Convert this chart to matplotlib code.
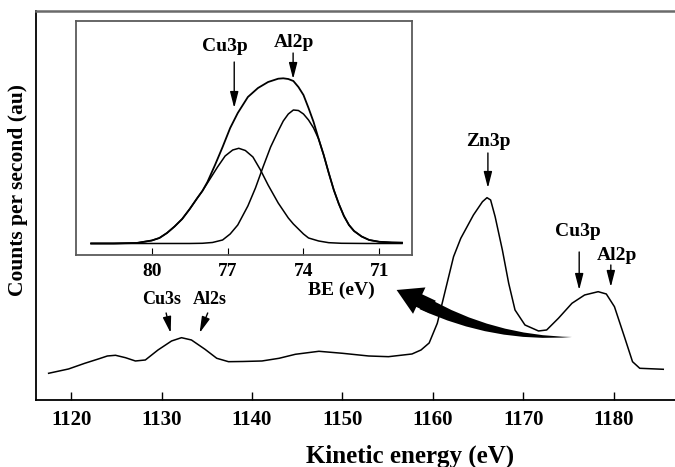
import numpy as np
import matplotlib
matplotlib.use("Agg")
import matplotlib.pyplot as plt
from matplotlib.patches import FancyArrowPatch

plt.rcParams['font.family'] = ['Liberation Serif', 'DejaVu Serif']
plt.rcParams['font.weight'] = 'bold'
plt.rcParams['axes.labelweight'] = 'bold'

# Spectre principal (énergie cinétique, intensité)
ke = [1117.5, 1119.7, 1121.5, 1123.0, 1124.0, 1124.9, 1126.0, 1127.1, 1128.2,
      1129.6, 1131.1, 1132.2, 1133.3, 1134.8, 1136.1, 1137.4, 1139.0, 1141.1,
      1143.0, 1144.8, 1147.4, 1150.0, 1152.9, 1155.1, 1157.7, 1158.7, 1159.6,
      1160.5, 1161.4, 1162.3, 1163.1, 1163.6, 1164.5, 1165.5, 1166.0, 1166.4,
      1166.9, 1167.7, 1168.4, 1169.1, 1170.2, 1171.7, 1172.6, 1173.9, 1175.4,
      1176.8, 1178.3, 1179.2, 1180.1, 1181.2, 1182.1, 1182.9, 1185.5]
counts = [26.7, 31, 36.7, 41, 44, 44.7, 42.3, 39, 40,
          50, 59, 62.3, 60, 50.7, 41.7, 38.3, 38.5, 39,
          41.7, 45.7, 48.7, 46.7, 44, 43.3, 46, 50, 57,
          76.7, 110, 143.3, 161.7, 170, 185, 198.3, 202.3, 200,
          183.3, 150, 116.7, 90, 75, 69, 70, 81.7, 96.7,
          105, 108.3, 106, 93.3, 63.3, 38.3, 31.7, 30.7]

# Encart : enveloppe mesurée et composantes Cu3p / Al2p (énergie de liaison)
be_env = [82.4, 81.5, 80.6, 80.0, 79.7, 79.4, 79.1, 78.8, 78.5, 78.2, 78.0,
          77.8, 77.5, 77.2, 76.9, 76.6, 76.2, 75.8, 75.4, 75.0, 74.8, 74.6,
          74.4, 74.2, 74.0, 73.8, 73.6, 73.4, 73.2, 73.0, 72.8, 72.6, 72.4,
          72.2, 72.0, 71.7, 71.4, 71.0, 70.5, 70.1]
env = [11.5, 11.5, 12, 14.5, 17, 22, 28.5, 36, 46, 57, 64,
       73, 90, 108, 127, 142, 158, 167, 173, 176.3, 176.7, 176,
       174, 168, 160, 147, 133, 116, 100, 82, 65, 51, 39,
       30, 24, 18.5, 15, 13.2, 12.5, 12.3]

be_cu = [82.4, 81.5, 80.6, 80.0, 79.7, 79.4, 79.1, 78.8, 78.5, 78.2, 78.0,
         77.7, 77.4, 77.1, 76.8, 76.56, 76.3, 76.0, 75.7, 75.4, 75.0, 74.8,
         74.6, 74.4, 74.2, 74.0, 73.8, 73.4, 73.0, 72.5, 71.5, 70.1]
cu = [11.5, 11.5, 12, 14.5, 17, 22, 28.5, 36, 46, 57, 64,
      76, 88, 99, 105, 106.7, 104.5, 98, 85, 70, 52, 44.5,
      37, 31, 26, 21, 17, 14, 12.3, 11.7, 11.5, 11.5]

be_al = [82.4, 80.0, 78.5, 78.0, 77.6, 77.2, 76.9, 76.6, 76.2, 75.9, 75.6,
         75.3, 75.0, 74.8, 74.6, 74.4, 74.2, 74.0, 73.8, 73.6, 73.4, 73.2,
         73.0, 72.8, 72.6, 72.4, 72.2, 72.0, 71.7, 71.4, 71.0, 70.5, 70.1]
al = [11.5, 11.5, 11.5, 11.7, 12.5, 15, 21, 30, 49, 67, 88,
      108, 124, 134, 141, 145, 144.5, 141, 135, 127, 116, 100,
      82, 65, 51, 39, 30, 24, 18.5, 15, 13.2, 12.5, 12.3]

main_ticks = [1120, 1130, 1140, 1150, 1160, 1170, 1180]
inset_ticks = [80, 77, 74, 71]

fig = plt.figure(figsize=(6.75, 4.67), dpi=100)
ax = fig.add_axes([0.0533, 0.1435, 0.9467, 0.833])
ax.plot(ke, counts, color='black', lw=1.1)
ax.set_xlim(1116.1, 1186.8)
ax.set_ylim(0, 389)
ax.set_xticks(main_ticks)
ax.set_xticklabels([str(t) for t in main_ticks], fontweight='bold')
ax.set_yticks([])
ax.tick_params(axis='x', direction='in', length=6, width=1, labelsize=15, pad=7)
ax.spines['right'].set_visible(False)
ax.spines['left'].set_linewidth(1.3)
ax.spines['bottom'].set_linewidth(1.3)
ax.spines['top'].set_color('#6a6a6a')
ax.spines['top'].set_linewidth(1.8)
fig.text(0.607, 0.024, 'Kinetic energy (eV)', fontsize=18, fontweight='bold',
         ha='center', va='center')
ax.set_ylabel('Counts per second (au)', fontsize=15.5, fontweight='bold')
ax.yaxis.set_label_coords(-0.012, 0.54)

arrow = dict(arrowstyle='-|>,head_length=0.7,head_width=0.18', color='black',
             lw=1.0, mutation_scale=14, shrinkA=0, shrinkB=0)

# Annotations du spectre principal
ax.text(1166.1, 258, 'Zn3p', fontsize=14, ha='center', va='center')
ax.annotate('', xy=(1166.1, 212), xytext=(1166.1, 247), arrowprops=arrow)
ax.text(1176.0, 168, 'Cu3p', fontsize=14, ha='center', va='center')
ax.annotate('', xy=(1176.2, 110), xytext=(1176.2, 148), arrowprops=arrow)
ax.text(1180.4, 144, 'Al2p', fontsize=14, ha='center', va='center')
ax.annotate('', xy=(1179.7, 113), xytext=(1179.7, 135), arrowprops=arrow)
ax.text(1130.0, 100, 'Cu3s', fontsize=13, ha='center', va='center')
ax.annotate('', xy=(1131.0, 67), xytext=(1130.5, 87), arrowprops=arrow)
ax.text(1135.3, 100, 'Al2s', fontsize=13, ha='center', va='center')
ax.annotate('', xy=(1134.2, 67), xytext=(1135.1, 87), arrowprops=arrow)

# grosse flèche courbe : corps en biseau + tête
body = FancyArrowPatch((1158.9, 97), (1175.4, 63),
                       arrowstyle='wedge,tail_width=0.5,shrink_factor=0.5',
                       connectionstyle='arc3,rad=0.13', mutation_scale=20,
                       color='black', lw=0, shrinkA=0, shrinkB=0)
ax.add_patch(body)
head = FancyArrowPatch((1160.0, 93), (1156.0, 110),
                       arrowstyle='simple,head_length=0.9,head_width=1.05,tail_width=0.5',
                       mutation_scale=20, color='black', lw=0, shrinkA=0, shrinkB=0)
ax.add_patch(head)

# Encart
ins = fig.add_axes([0.1126, 0.454, 0.498, 0.501])
ins.plot(be_env, env, color='black', lw=1.3)
ins.plot(be_cu, cu, color='black', lw=1.1)
ins.plot(be_al, al, color='black', lw=1.1)
ins.set_xlim(83.0, 69.7)
ins.set_ylim(0, 234)
ins.set_xticks(inset_ticks)
ins.set_xticklabels([str(t) for t in inset_ticks], fontweight='bold')
ins.set_yticks([])
ins.tick_params(axis='x', direction='in', length=5, width=0.8, labelsize=14, pad=6)
for s in ins.spines.values():
    s.set_color('#5a5a5a')
    s.set_linewidth(1.3)

ins.text(77.10, 209, 'Cu3p', fontsize=14, ha='center', va='center')
ins.annotate('', xy=(76.74, 147), xytext=(76.74, 193), arrowprops=arrow)
ins.text(74.37, 213, 'Al2p', fontsize=14, ha='center', va='center')
ins.annotate('', xy=(74.41, 176), xytext=(74.41, 202), arrowprops=arrow)
ins.text(72.51, -35, 'BE (eV)', fontsize=14, ha='center', va='center', clip_on=False)

fig.savefig('out.png', dpi=100)
